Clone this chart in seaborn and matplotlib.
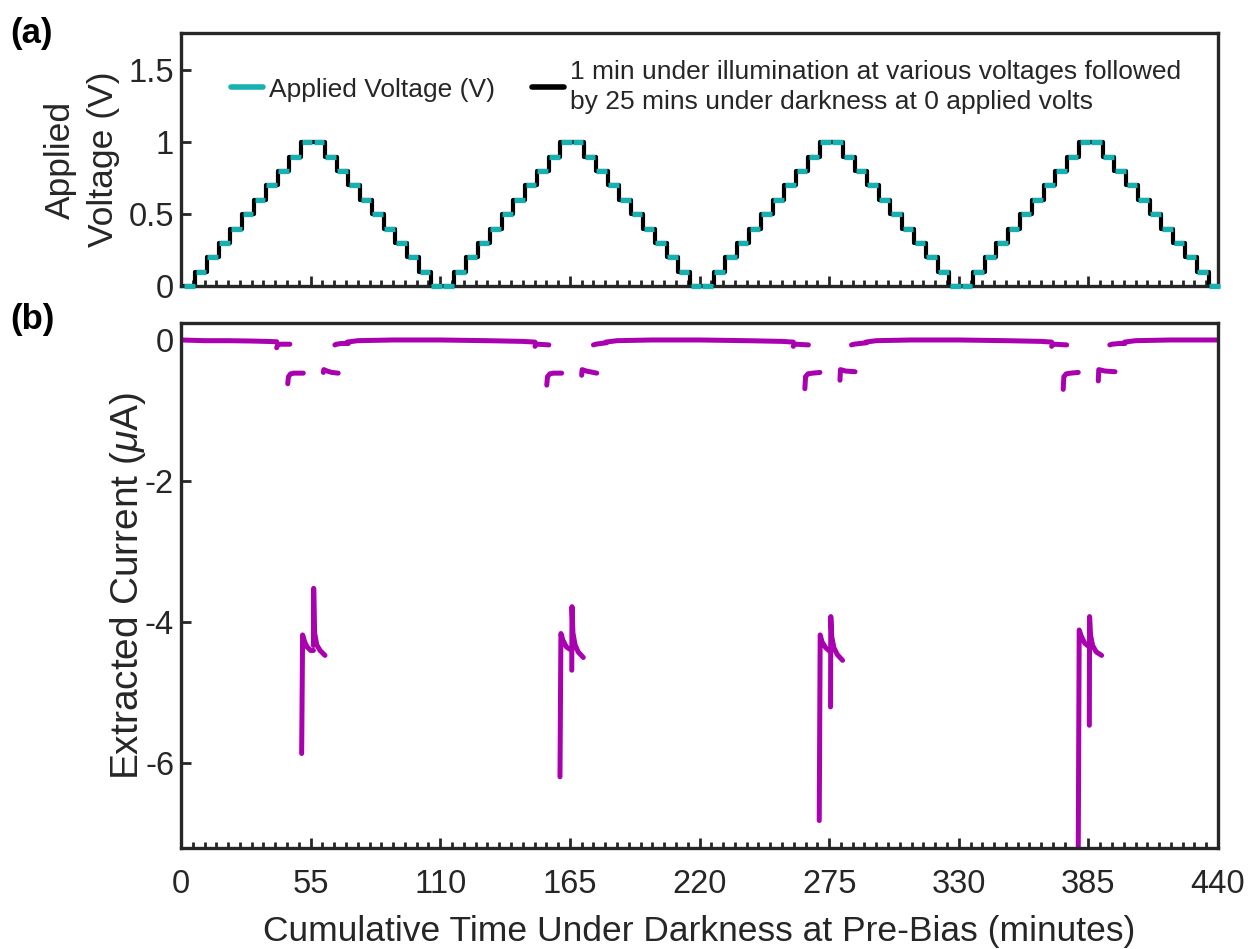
import numpy as np
import pandas as pd
import matplotlib
matplotlib.use("Agg")
import matplotlib.pyplot as plt
from matplotlib.lines import Line2D
from matplotlib.ticker import MultipleLocator, FixedLocator, FuncFormatter
import seaborn as sns

# ---------------- data ----------------
# applied voltage levels for one triangular cycle (one value per 5-min step)
volt_cycle = [0.0, 0.1, 0.2, 0.3, 0.4, 0.5, 0.6, 0.7, 0.8, 0.9, 1.0,
              1.0, 0.9, 0.8, 0.7, 0.6, 0.5, 0.4, 0.3, 0.2, 0.1, 0.0]
n_cycles = 4
step_minutes = 5
first_step = 1

# extracted current: baseline (dark) pieces
base_t = [[0, 10, 20, 30, 36, 40.6],
          [70.5, 75, 90, 110, 130, 145, 150.2],
          [180.2, 185, 200, 220, 240, 255, 259.8],
          [290.5, 295, 310, 330, 350, 365, 369.4],
          [400.3, 405, 420, 440]]
base_i = [[0.0, -0.01, -0.01, -0.015, -0.02, -0.025],
          [-0.03, -0.01, 0.0, 0.0, -0.01, -0.02, -0.03],
          [-0.03, -0.01, 0.0, 0.0, -0.01, -0.02, -0.03],
          [-0.03, -0.01, 0.0, 0.0, -0.01, -0.02, -0.03],
          [-0.03, -0.01, 0.0, 0.0]]

# cycle 1 segments (0.8 V, 0.9 V, 1.0 V, 1.0 V, 0.9 V, 0.8 V)
c1_t = [[40.6, 41.0, 42.0, 46.2],
        [45.3, 45.6, 46.5, 48.0, 51.9],
        [51.2, 51.6, 52.5, 53.5, 55.0, 56.2],
        [56.2, 56.3, 56.7, 57.6, 59.0, 61.1],
        [60.4, 60.6, 62.0, 64.0, 66.7],
        [65.3, 66.0, 68.0, 71.0]]
c1_i = [[-0.11, -0.07, -0.06, -0.06],
        [-0.62, -0.52, -0.48, -0.47, -0.47],
        [-5.86, -4.18, -4.28, -4.35, -4.40, -4.40],
        [-4.33, -3.52, -4.15, -4.32, -4.40, -4.47],
        [-0.46, -0.42, -0.44, -0.46, -0.47],
        [-0.07, -0.06, -0.05, -0.05]]

c2_t = [[150.2, 150.6, 151.5, 156.1],
        [155.2, 155.5, 156.5, 158.0, 161.5],
        [160.8, 161.2, 162.0, 163.5, 165.8],
        [165.8, 165.9, 166.3, 167.2, 168.5, 170.7],
        [170.0, 170.2, 172.0, 176.4],
        [175.0, 176.0, 178.0, 180.6]]
c2_i = [[-0.09, -0.06, -0.06, -0.07],
        [-0.64, -0.52, -0.48, -0.47, -0.47],
        [-6.19, -4.16, -4.25, -4.35, -4.40],
        [-4.68, -3.78, -4.15, -4.32, -4.42, -4.50],
        [-0.50, -0.42, -0.44, -0.47],
        [-0.07, -0.06, -0.05, -0.04]]

c3_t = [[259.8, 260.2, 261.0, 266.2],
        [264.7, 265.0, 266.0, 268.0, 271.1],
        [270.8, 271.2, 272.0, 273.5, 275.6],
        [275.6, 275.7, 276.1, 277.0, 278.5, 280.7],
        [279.6, 279.8, 282.0, 286.0],
        [284.5, 285.5, 288.0, 290.9]]
c3_i = [[-0.09, -0.06, -0.06, -0.07],
        [-0.69, -0.52, -0.48, -0.47, -0.46],
        [-6.81, -4.18, -4.28, -4.36, -4.42],
        [-5.20, -3.92, -4.20, -4.36, -4.46, -4.54],
        [-0.57, -0.42, -0.44, -0.45],
        [-0.07, -0.06, -0.05, -0.04]]

c4_t = [[369.4, 369.8, 370.6, 375.8],
        [374.3, 374.6, 375.6, 377.5, 380.7],
        [380.7, 381.1, 382.0, 383.5, 385.4],
        [385.4, 385.5, 385.9, 386.8, 388.3, 390.6],
        [389.2, 389.4, 392.0, 396.3],
        [394.1, 395.0, 398.0, 400.5]]
c4_i = [[-0.09, -0.06, -0.06, -0.07],
        [-0.70, -0.52, -0.48, -0.47, -0.46],
        [-7.20, -4.11, -4.20, -4.30, -4.35],
        [-5.46, -3.92, -4.18, -4.33, -4.42, -4.47],
        [-0.58, -0.42, -0.44, -0.45],
        [-0.07, -0.06, -0.05, -0.05]]

x_ticks = [0, 55, 110, 165, 220, 275, 330, 385, 440]
top_yticks = [0, 0.5, 1, 1.5]
bot_yticks = [0, -2, -4, -6]

legend_v = "Applied Voltage (V)"
legend_k = ("1 min under illumination at various voltages followed\n"
            "by 25 mins under darkness at 0 applied volts")

# ---------------- style ----------------
sns.set_style("white")
plt.rcParams["font.family"] = ["Liberation Sans", "DejaVu Sans"]
plt.rcParams["axes.unicode_minus"] = False
plt.rcParams["mathtext.fontset"] = "custom"
plt.rcParams["mathtext.it"] = "Liberation Sans:italic"
plt.rcParams["mathtext.rm"] = "Liberation Sans"

CYAN = "#17b1b1"
MAG = "#a900b0"
SPINE = "#262626"
TICK_FS = 23.5
LABEL_FS = 25.5

fig = plt.figure(figsize=(12.49, 9.49), dpi=100)
ax1 = fig.add_axes([0.1449, 0.6986, 0.8303, 0.2666])
ax2 = fig.add_axes([0.1449, 0.1064, 0.8303, 0.5532])

# ---------------- top panel ----------------
volts = np.tile(volt_cycle, n_cycles)
step_t = first_step + step_minutes * np.arange(len(volts))
vdf = pd.DataFrame({"t": np.append(step_t, step_t[-1] + step_minutes),
                    "v": np.append(volts, volts[-1])})
sns.lineplot(data=vdf, x="t", y="v", ax=ax1, color="black", lw=3.0,
             drawstyle="steps-post", estimator=None, sort=False, zorder=2)
ax1.hlines(volts, step_t + 0.25, step_t + step_minutes - 0.25, color=CYAN,
           lw=3.8, zorder=3, clip_on=False, capstyle="butt")

ax1.set_xlim(0, 440)
ax1.set_ylim(0, 1.76)
ax1.xaxis.set_major_locator(FixedLocator(x_ticks))
ax1.xaxis.set_minor_locator(MultipleLocator(5))
ax1.set_xticklabels([])
ax1.yaxis.set_major_locator(FixedLocator(top_yticks))
ax1.yaxis.set_major_formatter(FuncFormatter(lambda v, p: f"{v:g}"))
ax1.set_xlabel("")
ax1.set_ylabel("Applied\nVoltage (V)", fontsize=LABEL_FS, labelpad=6,
               linespacing=1.4)

leg_handles = [Line2D([], [], color=CYAN, lw=4), Line2D([], [], color="black", lw=4)]
leg = ax1.legend(leg_handles, [legend_v, legend_k], ncol=2, frameon=False,
                 loc="upper left", bbox_to_anchor=(0.043, 0.915), fontsize=19,
                 handlelength=1.2, handletextpad=0.25, columnspacing=1.4,
                 borderaxespad=0.0, borderpad=0.2)
for txt in leg.get_texts():
    txt.set_linespacing(1.35)

# ---------------- bottom panel ----------------
rows = []
seg_id = 0
for ts, iss in zip(base_t + c1_t + c2_t + c3_t + c4_t,
                   base_i + c1_i + c2_i + c3_i + c4_i):
    for t, i in zip(ts, iss):
        rows.append((seg_id, t, i))
    seg_id += 1
cdf = pd.DataFrame(rows, columns=["seg", "t", "i"])
sns.lineplot(data=cdf, x="t", y="i", units="seg", estimator=None, sort=False,
             ax=ax2, color=MAG, lw=3.6, legend=False)

ax2.set_xlim(0, 440)
ax2.set_ylim(-7.2, 0.24)
ax2.xaxis.set_major_locator(FixedLocator(x_ticks))
ax2.xaxis.set_minor_locator(MultipleLocator(5))
ax2.xaxis.set_major_formatter(FuncFormatter(lambda v, p: f"{v:g}"))
ax2.yaxis.set_major_locator(FixedLocator(bot_yticks))
ax2.yaxis.set_major_formatter(FuncFormatter(lambda v, p: f"{v:g}"))
ax2.set_xlabel("Cumulative Time Under Darkness at Pre-Bias (minutes)",
               fontsize=LABEL_FS, labelpad=11)
ax2.set_ylabel(r"Extracted Current ($\mu$A)", fontsize=28, labelpad=-2)

for ax in (ax1, ax2):
    for s in ax.spines.values():
        s.set_linewidth(2.4)
        s.set_color(SPINE)
    ax.tick_params(axis="both", which="major", direction="in", length=7,
                   width=2, color=SPINE, labelsize=TICK_FS, labelcolor=SPINE,
                   top=False, right=False, left=True, bottom=True, pad=5)
    ax.tick_params(axis="x", which="minor", direction="in", length=4.5,
                   width=2, color=SPINE, top=False, bottom=True)
    ax.yaxis.label.set_color(SPINE)
    ax.xaxis.label.set_color(SPINE)
ax2.tick_params(axis="x", which="major", pad=15)

fig.text(0.008, 0.965, "(a)", fontsize=25, fontweight="bold", va="center", color="black")
fig.text(0.008, 0.663, "(b)", fontsize=25, fontweight="bold", va="center", color="black")

fig.savefig("out.png", dpi=100)
